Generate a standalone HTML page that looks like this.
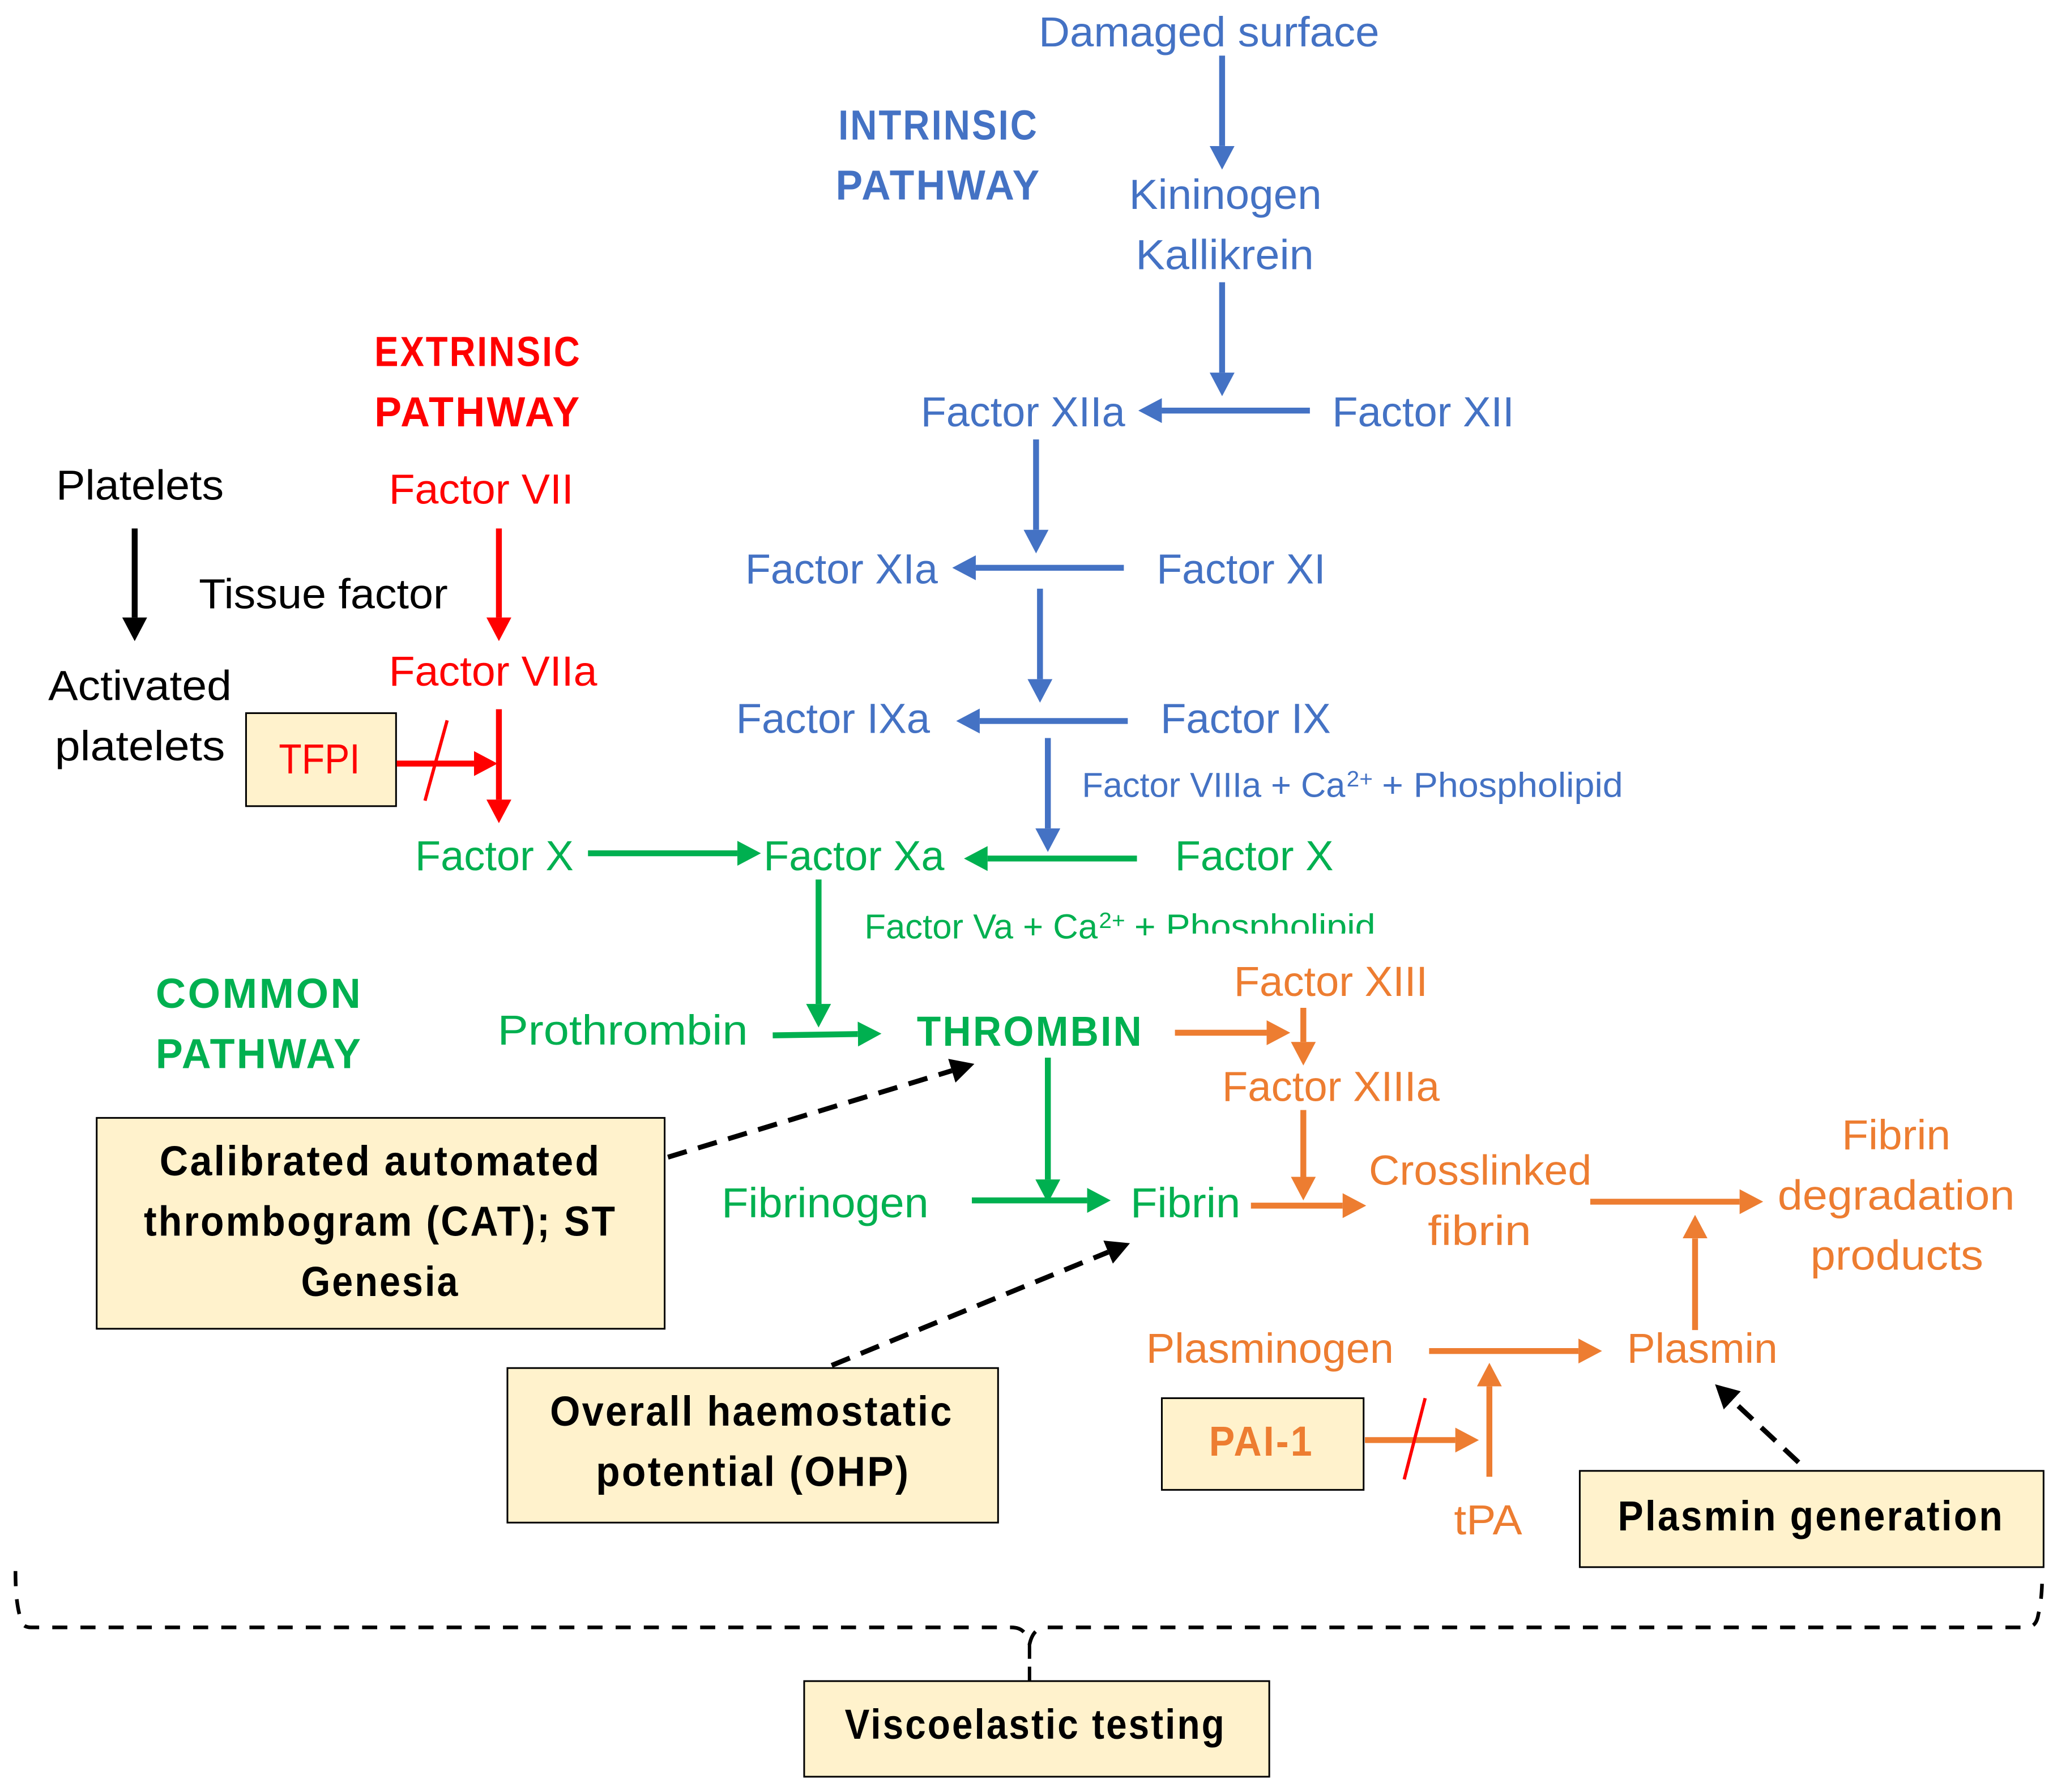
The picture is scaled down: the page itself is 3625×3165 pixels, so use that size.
<!DOCTYPE html>
<html lang="en"><head><meta charset="utf-8"><title>Coagulation cascade</title>
<style>
html,body{margin:0;padding:0;background:#fff}
svg{display:block}
text{font-family:"Liberation Sans",sans-serif;font-size:32px}
.b{fill:#4472C4}.r{fill:#FF0000}.g{fill:#00B050}.o{fill:#ED7D31}.k{fill:#000}
.bd{font-weight:bold;letter-spacing:1.5px}
.s{font-size:26.5px}.t{font-size:17px}
.lb,.lr,.lg,.lo,.lk{fill:none;stroke-width:4.5}
.lb{stroke:#4472C4;marker-end:url(#mb)}
.lr{stroke:#FF0000;marker-end:url(#mr)}
.lg{stroke:#00B050;marker-end:url(#mg)}
.lo{stroke:#ED7D31;marker-end:url(#mo)}
.lk{stroke:#000;marker-end:url(#mk)}
.da{fill:none;stroke:#000;stroke-width:3.800;stroke-dasharray:15 9;marker-end:url(#mk)}
.box{fill:#FFF2CC;stroke:#000;stroke-width:1.3}
</style></head><body>
<svg xmlns="http://www.w3.org/2000/svg" width="3625" height="3165" viewBox="0 0 1567 1368">
<defs>
<marker id="mb" markerUnits="userSpaceOnUse" viewBox="0 -9.5 18 19" refX="0" refY="0" markerWidth="18" markerHeight="19" orient="auto"><path d="M0,-9.5L18,0L0,9.5z" fill="#4472C4"/></marker>
<marker id="mr" markerUnits="userSpaceOnUse" viewBox="0 -9.5 18 19" refX="0" refY="0" markerWidth="18" markerHeight="19" orient="auto"><path d="M0,-9.5L18,0L0,9.5z" fill="#FF0000"/></marker>
<marker id="mg" markerUnits="userSpaceOnUse" viewBox="0 -9.5 18 19" refX="0" refY="0" markerWidth="18" markerHeight="19" orient="auto"><path d="M0,-9.5L18,0L0,9.5z" fill="#00B050"/></marker>
<marker id="mo" markerUnits="userSpaceOnUse" viewBox="0 -9.5 18 19" refX="0" refY="0" markerWidth="18" markerHeight="19" orient="auto"><path d="M0,-9.5L18,0L0,9.5z" fill="#ED7D31"/></marker>
<marker id="mk" markerUnits="userSpaceOnUse" viewBox="0 -9.5 18 19" refX="0" refY="0" markerWidth="18" markerHeight="19" orient="auto"><path d="M0,-9.5L18,0L0,9.5z" fill="#000"/></marker>
</defs>
<rect width="1567" height="1368" fill="#fff"/>
<g transform="translate(-0.2,-0.6)">

<!-- boxes -->
<rect class="box" x="74" y="854" width="433.500" height="161"/>
<rect class="box" x="387.500" y="1045" width="374.500" height="118"/>
<rect class="box" x="1206" y="1123.500" width="354" height="73.500"/>
<rect class="box" x="614" y="1284" width="355" height="73"/>
<rect class="box" x="887" y="1068" width="154" height="70"/>
<rect class="box" x="188" y="545" width="114.500" height="71"/>

<!-- blue connectors -->
<path class="lb" d="M933,43V112"/>
<path class="lb" d="M933,216V285"/>
<path class="lb" d="M1000,314H887"/>
<path class="lb" d="M791,336V405"/>
<path class="lb" d="M858,434H745"/>
<path class="lb" d="M794,450V519"/>
<path class="lb" d="M861,551H748"/>
<path class="lb" d="M800,564V633"/>

<!-- green connectors -->
<path class="lg" d="M868,656H754"/>
<path class="lg" d="M625,672V767"/>
<path class="lg" d="M449,652H563"/>
<path class="lg" d="M590,791L655,790"/>
<path class="lg" d="M800,808V901"/>
<path class="lg" d="M742,917H830"/>

<!-- red connectors -->
<path class="lr" d="M381,404V472"/>
<path class="lr" d="M381,542V611"/>
<path class="lr" d="M303,583.500H362"/>
<path d="M341.500,550.500L324.600,611.800" stroke="#FF0000" stroke-width="2.500" fill="none"/>

<!-- black connector -->
<path class="lk" d="M103,404V472"/>

<!-- orange connectors -->
<path class="lo" d="M897,789H967"/>
<path class="lo" d="M995,770V796"/>
<path class="lo" d="M995,848V899"/>
<path class="lo" d="M955,921H1025"/>
<path class="lo" d="M1214,918H1328"/>
<path class="lo" d="M1294,1016V946"/>
<path class="lo" d="M1091,1032H1205"/>
<path class="lo" d="M1137,1128V1059"/>
<path class="lo" d="M1042,1100H1111"/>
<path d="M1088,1068L1072,1130" stroke="#FF0000" stroke-width="2.500" fill="none"/>

<!-- dashed arrows -->
<path class="da" d="M510,884L726.700,818"/>
<path class="da" d="M635,1043L846,956.500"/>
<path class="da" d="M1373,1117L1322.400,1069.700"/>

<!-- bracket -->
<path d="M12,1200C12,1215 13,1225 15,1233C16,1240 18,1243 24,1243H772C780,1243 784,1247 786,1256C788,1247 792,1243 800,1243H1546C1552,1243 1555,1240 1556,1233C1558,1225 1559,1215 1559,1200" fill="none" stroke="#000" stroke-width="2.800" stroke-dasharray="11.500 10"/>
<path d="M786,1256V1284" fill="none" stroke="#000" stroke-width="2.600" stroke-dasharray="11 6"/>

<!-- blue labels -->
<text class="b" x="793" y="36" textLength="260" lengthAdjust="spacingAndGlyphs">Damaged surface</text>
<text class="b bd" x="640" y="107" textLength="153" lengthAdjust="spacingAndGlyphs">INTRINSIC</text>
<text class="b bd" x="638" y="153" textLength="157" lengthAdjust="spacingAndGlyphs">PATHWAY</text>
<text class="b" x="862" y="160" textLength="147" lengthAdjust="spacingAndGlyphs">Kininogen</text>
<text class="b" x="867" y="206" textLength="136" lengthAdjust="spacingAndGlyphs">Kallikrein</text>
<text class="b" x="703" y="326" textLength="156" lengthAdjust="spacingAndGlyphs">Factor XIIa</text>
<text class="b" x="1017" y="326" textLength="139" lengthAdjust="spacingAndGlyphs">Factor XII</text>
<text class="b" x="569" y="446" textLength="147" lengthAdjust="spacingAndGlyphs">Factor XIa</text>
<text class="b" x="883" y="446" textLength="129" lengthAdjust="spacingAndGlyphs">Factor XI</text>
<text class="b" x="562" y="560" textLength="148" lengthAdjust="spacingAndGlyphs">Factor IXa</text>
<text class="b" x="886" y="560" textLength="130" lengthAdjust="spacingAndGlyphs">Factor IX</text>
<text class="b s" x="826" y="609" textLength="201" lengthAdjust="spacingAndGlyphs">Factor VIIIa + Ca</text>
<text class="b t" x="1028" y="601" textLength="20" lengthAdjust="spacingAndGlyphs">2+</text>
<text class="b s" x="1055" y="609" textLength="184" lengthAdjust="spacingAndGlyphs">+ Phospholipid</text>

<!-- red labels -->
<text class="r bd" x="286" y="280" textLength="158" lengthAdjust="spacingAndGlyphs">EXTRINSIC</text>
<text class="r bd" x="286" y="326" textLength="158" lengthAdjust="spacingAndGlyphs">PATHWAY</text>
<text class="r" x="297" y="385" textLength="141" lengthAdjust="spacingAndGlyphs">Factor VII</text>
<text class="r" x="297" y="524" textLength="159" lengthAdjust="spacingAndGlyphs">Factor VIIa</text>
<text class="r" x="213" y="591" textLength="62" lengthAdjust="spacingAndGlyphs">TFPI</text>

<!-- black labels -->
<text class="k" x="43" y="382" textLength="128" lengthAdjust="spacingAndGlyphs">Platelets</text>
<text class="k" x="152" y="465" textLength="190" lengthAdjust="spacingAndGlyphs">Tissue factor</text>
<text class="k" x="37" y="535" textLength="140" lengthAdjust="spacingAndGlyphs">Activated</text>
<text class="k" x="42" y="581" textLength="130" lengthAdjust="spacingAndGlyphs">platelets</text>

<!-- green labels -->
<text class="g" x="317" y="665" textLength="121" lengthAdjust="spacingAndGlyphs">Factor X</text>
<text class="g" x="583" y="665" textLength="138" lengthAdjust="spacingAndGlyphs">Factor Xa</text>
<text class="g" x="897" y="665" textLength="121" lengthAdjust="spacingAndGlyphs">Factor X</text>
<text class="g s" x="660" y="717" textLength="178" lengthAdjust="spacingAndGlyphs">Factor Va + Ca</text>
<text class="g t" x="839" y="709" textLength="20" lengthAdjust="spacingAndGlyphs">2+</text>
<text class="g s" x="866" y="717" textLength="184" lengthAdjust="spacingAndGlyphs">+ Phospholipid</text>
<rect x="886" y="713.300" width="175" height="16" fill="#fff"/>
<text class="g bd" x="119" y="770" textLength="158" lengthAdjust="spacingAndGlyphs">COMMON</text>
<text class="g bd" x="119" y="816" textLength="158" lengthAdjust="spacingAndGlyphs">PATHWAY</text>
<text class="g" x="380" y="798" textLength="191" lengthAdjust="spacingAndGlyphs">Prothrombin</text>
<text class="g bd" x="700" y="799" textLength="173" lengthAdjust="spacingAndGlyphs">THROMBIN</text>
<text class="g" x="551" y="930" textLength="158" lengthAdjust="spacingAndGlyphs">Fibrinogen</text>
<text class="g" x="863" y="930" textLength="84" lengthAdjust="spacingAndGlyphs">Fibrin</text>

<!-- orange labels -->
<text class="o" x="942" y="761" textLength="148" lengthAdjust="spacingAndGlyphs">Factor XIII</text>
<text class="o" x="933" y="841" textLength="166" lengthAdjust="spacingAndGlyphs">Factor XIIIa</text>
<text class="o" x="1406" y="878" textLength="83" lengthAdjust="spacingAndGlyphs">Fibrin</text>
<text class="o" x="1357" y="924" textLength="181" lengthAdjust="spacingAndGlyphs">degradation</text>
<text class="o" x="1382" y="970" textLength="132" lengthAdjust="spacingAndGlyphs">products</text>
<text class="o" x="1045" y="905" textLength="170" lengthAdjust="spacingAndGlyphs">Crosslinked</text>
<text class="o" x="1090" y="951" textLength="79" lengthAdjust="spacingAndGlyphs">fibrin</text>
<text class="o" x="875" y="1041" textLength="189" lengthAdjust="spacingAndGlyphs">Plasminogen</text>
<text class="o" x="1242" y="1041" textLength="115" lengthAdjust="spacingAndGlyphs">Plasmin</text>
<text class="o bd" x="923" y="1112" textLength="80" lengthAdjust="spacingAndGlyphs">PAI-1</text>
<text class="o" x="1110" y="1172" textLength="52" lengthAdjust="spacingAndGlyphs">tPA</text>

<!-- box labels -->
<text class="k bd" x="122" y="898" textLength="337" lengthAdjust="spacingAndGlyphs">Calibrated automated</text>
<text class="k bd" x="110" y="944" textLength="361" lengthAdjust="spacingAndGlyphs">thrombogram (CAT); ST</text>
<text class="k bd" x="230" y="990" textLength="121" lengthAdjust="spacingAndGlyphs">Genesia</text>
<text class="k bd" x="420" y="1089" textLength="308" lengthAdjust="spacingAndGlyphs">Overall haemostatic</text>
<text class="k bd" x="455" y="1135" textLength="240" lengthAdjust="spacingAndGlyphs">potential (OHP)</text>
<text class="k bd" x="1235" y="1169" textLength="295" lengthAdjust="spacingAndGlyphs">Plasmin generation</text>
<text class="k bd" x="645" y="1328" textLength="291" lengthAdjust="spacingAndGlyphs">Viscoelastic testing</text>
</g>
</svg>
</body></html>
